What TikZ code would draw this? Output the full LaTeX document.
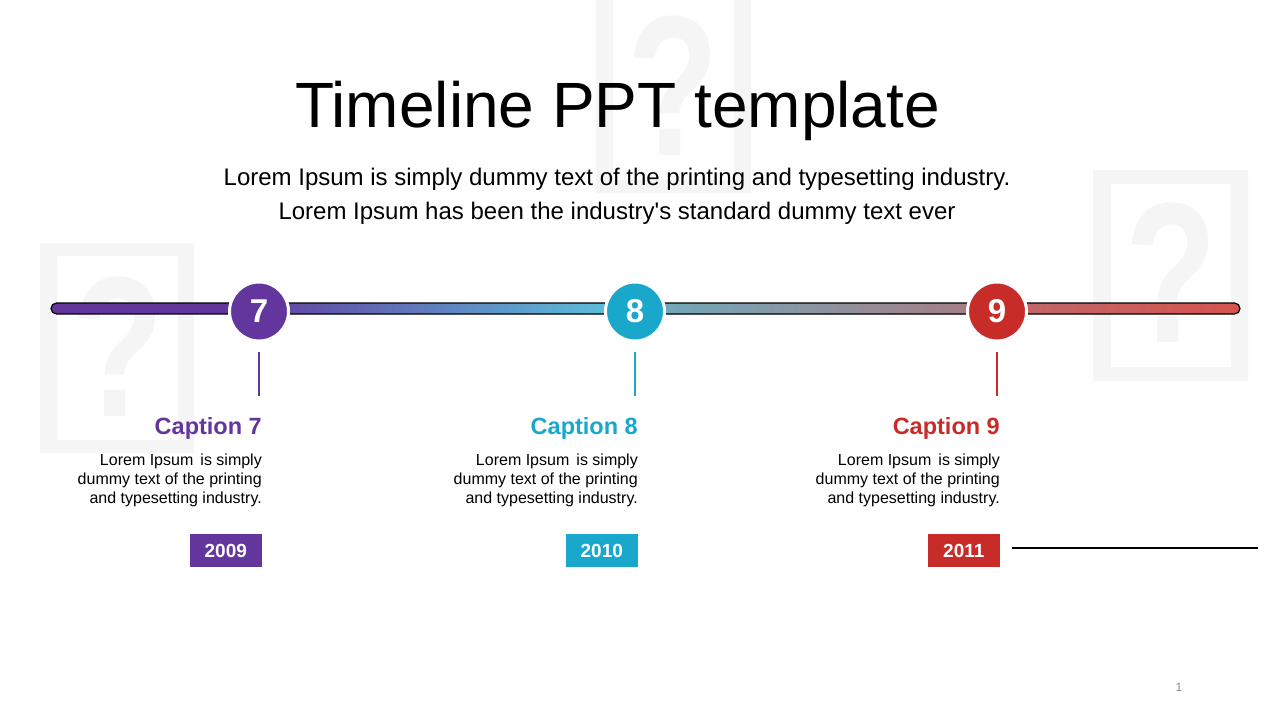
\documentclass[tikz,border=0pt]{standalone}
\usepackage{fontspec}
\setmainfont{Liberation Sans}[Ligatures=TeXOff]
\usetikzlibrary{positioning}

\definecolor{tlPurple}{RGB}{99,54,158}
\definecolor{tlCyan}{RGB}{26,167,204}
\definecolor{tlRed}{RGB}{200,44,40}
\definecolor{barCyan}{RGB}{92,195,220}
\definecolor{barTeal}{RGB}{106,174,194}
\definecolor{barMauve}{RGB}{172,122,128}
\definecolor{barRose}{RGB}{190,104,106}
\definecolor{barRed}{RGB}{214,84,80}
\definecolor{phGray}{RGB}{245,245,245}
\definecolor{pageGray}{RGB}{140,140,140}

\newcommand{\fsz}[2]{\fontsize{#1}{#2}\selectfont}

\begin{document}
\begin{tikzpicture}[x=1pt, y=-1pt,
    dot/.style={circle, minimum size=59pt, inner sep=0pt, draw=white, line width=3pt,
      text=white, font=\bfseries\fsz{33}{38}},
    caption/.style={anchor=base east, inner sep=0pt, font=\bfseries\fsz{23.5}{28}},
    body/.style={anchor=base east, inner sep=0pt, align=right, font=\fsz{16}{19}},
    yearbox/.style={rectangle, anchor=east, minimum width=72pt, minimum height=33pt,
      inner sep=0pt, text=white, font=\bfseries\fsz{19}{22}},
    stem/.style={line width=2.5pt},
    holder/.style={fill=phGray, even odd rule},
    qmark/.style={text=phGray, inner sep=0pt, font=\bfseries\fsz{200}{200}}]

  \clip (0,0) rectangle (1280,720);
  \fill[white] (0,0) rectangle (1280,720);

  \fill[holder] (596,-20) rectangle (751,193) (613,-7) rectangle (734,180);
  \fill[holder] (40,243) rectangle (194,453) (57,256) rectangle (178,440);
  \fill[holder] (1093,170) rectangle (1248,381) (1111,184) rectangle (1231,367);
  \node[qmark] (q1) at (673,86) {\scalebox{0.75}[1]{?}};
  \node[qmark] (q2) at (118,347) {\scalebox{0.75}[1]{?}};
  \node[qmark] (q3) at (1171,273) {\scalebox{0.75}[1]{?}};

  \node[anchor=base, inner sep=0pt, font=\fsz{64}{70}] (title) at (617.5,127) {Timeline PPT template};
  \node[anchor=base, inner sep=0pt, align=center, font=\fsz{24}{34}] (sub) at (617,219)
    {Lorem Ipsum is simply dummy text of the printing and typesetting industry.\\
     Lorem Ipsum has been the industry's standard dummy text ever};

  \begin{scope}
    \clip[rounded corners=5.5pt] (51,303) rectangle (1240,314);
    \fill[tlPurple] (51,303) rectangle (231,314);
    \shade[left color=tlPurple, right color=barCyan] (230,303) rectangle (621,314);
    \shade[left color=barTeal, right color=barMauve] (620,303) rectangle (1001,314);
    \shade[left color=barRose, right color=barRed] (1000,303) rectangle (1240,314);
  \end{scope}
  \draw[line width=1.2pt, rounded corners=5.5pt] (51,303) rectangle (1240,314);

  \foreach \n/\cx/\col/\yr in {7/259/tlPurple/2009, 8/635/tlCyan/2010, 9/997/tlRed/2011}{
    \node[dot, fill=\col] (dot\n) at (\cx,311.5) {\n};
    \draw[stem, \col] ([yshift=-9pt]dot\n.south) -- ++(0,44);
    \node[caption, text=\col] (cap\n) at (\cx+3,434) {Caption \n};
    \node[body] (txt\n) at (\cx+3,503) {Lorem Ipsum\, is simply\\dummy text of the printing\\and typesetting industry.};
    \node[yearbox, fill=\col] (yr\n) at (\cx+3,550.5) {\yr};
  }

  \coordinate[right=12pt of yr9.east, yshift=2.5pt] (lineStart);
  \draw[line width=2pt] (lineStart) -- ++(246,0);

  \node[text=pageGray, inner sep=0pt, font=\fsz{12}{14}] (page) at (1179,687) {1};
\end{tikzpicture}
\end{document}
